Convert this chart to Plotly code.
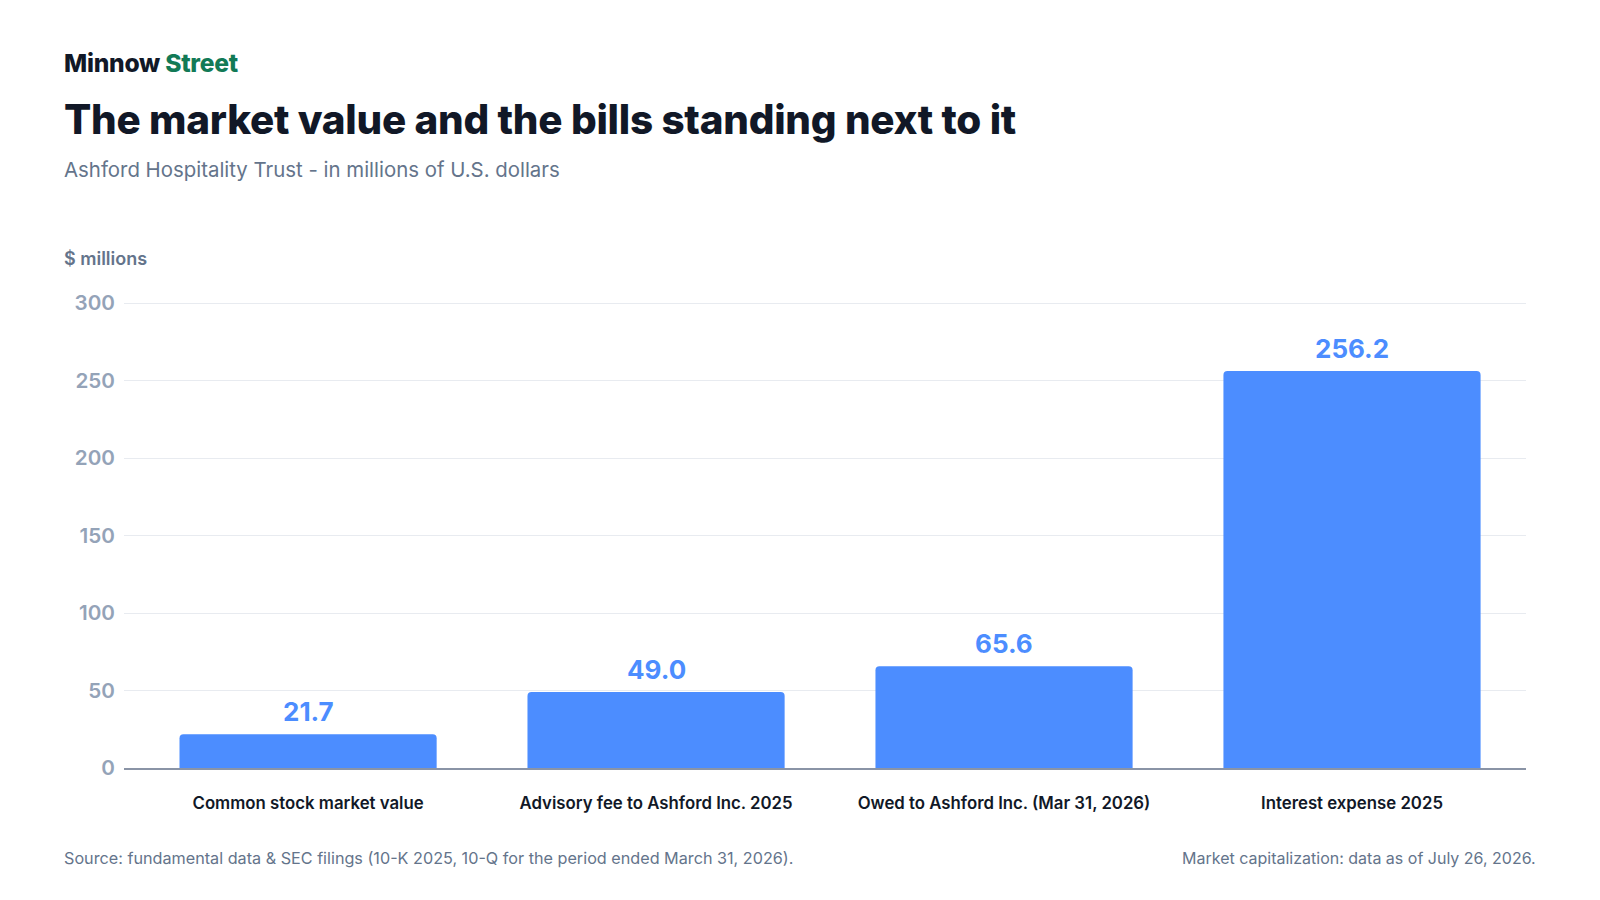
import plotly.graph_objects as go

# Chart data
categories = ["Common stock market value", "Advisory fee to Ashford Inc. 2025",
              "Owed to Ashford Inc. (Mar 31, 2026)", "Interest expense 2025"]
values = [21.7, 49.0, 65.6, 256.2]
y_ticks = [0, 50, 100, 150, 200, 250, 300]

BLUE = "#4C8DFF"
FONT = "Inter"

# Plot area in pixels (1600x900 canvas)
W, H = 1600, 900
L, R, T, B = 124, 74, 300, 132


def px_x(x):
    return (x - L) / (W - L - R)


def px_y(y):
    return (H - B - y) / (H - T - B)


fig = go.Figure()
fig.add_trace(go.Bar(x=categories, y=values, marker=dict(color=BLUE, line=dict(width=0)),
                     hoverinfo="skip"))

# value labels above the bars
for c, v in zip(categories, values):
    fig.add_annotation(x=c, y=v, text=f"{v:.1f}", showarrow=False, yanchor="bottom",
                       yshift=5, font=dict(family=FONT, size=26, color=BLUE, weight=700))

# header and footer text
heavy = "font-weight:800;letter-spacing:-0.25px"
texts = [
    (62, 63, f"<span style='{heavy}'>Minnow <span style='color:#127a56'>Street</span></span>",
     24.6, "#111827", "left"),
    (62, 119, f"<span style='{heavy}'>The market value and the bills standing next to it</span>",
     40.4, "#111827", "left"),
    (62, 169, "Ashford Hospitality Trust - in millions of U.S. dollars", 20.4, "#64748b", "left"),
    (62, 258, "<span style='font-weight:600'>$ millions</span>", 18, "#64748b", "left"),
    (62, 858, "Source: fundamental data & SEC filings (10-K 2025, 10-Q for the period ended March 31, 2026).",
     16.2, "#64748b", "left"),
    (1538, 858, "Market capitalization: data as of July 26, 2026.", 16, "#64748b", "right"),
]
for x, y, t, s, col, anc in texts:
    fig.add_annotation(xref="paper", yref="paper", x=px_x(x), y=px_y(y), text=t, showarrow=False,
                       xanchor=anc, yanchor="middle",
                       font=dict(family=FONT, size=s, color=col))

fig.update_layout(
    width=W, height=H,
    margin=dict(l=L, r=R, t=T, b=B),
    plot_bgcolor="white", paper_bgcolor="white",
    showlegend=False,
    bargap=0.261,
    barcornerradius=4,
    font=dict(family=FONT),
    xaxis=dict(range=[-0.529, 3.5], showgrid=False, showline=True, linecolor="#8a94a6", linewidth=2,
               ticks="outside", ticklen=19, tickcolor="rgba(0,0,0,0)",
               tickfont=dict(family=FONT, size=16.8, color="#111827", weight=600)),
    yaxis=dict(range=[0, 302], tickvals=y_ticks, showgrid=True, gridcolor="#e8ebf0", gridwidth=1,
               zeroline=False, showline=False, ticklabelstandoff=8,
               tickfont=dict(family=FONT, size=20.7, color="#94a3b8", weight=600)),
)

fig.write_html("out.html", config={"displayModeBar": False},
               post_script="document.body.style.margin='0';")
